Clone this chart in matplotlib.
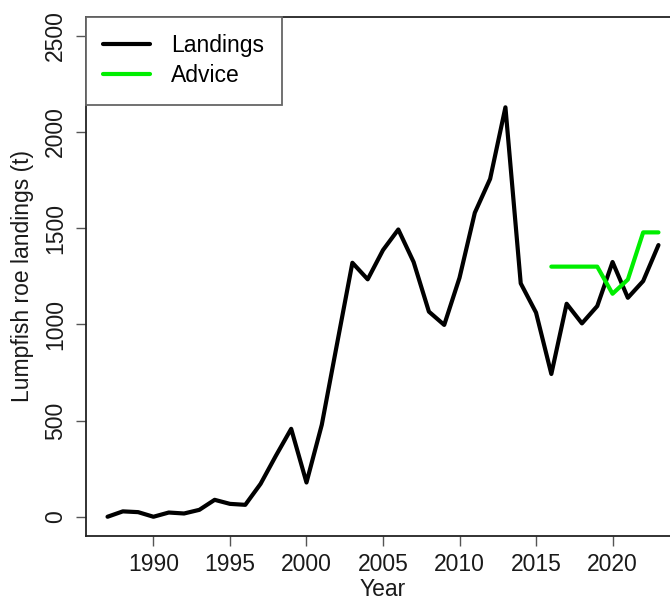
import matplotlib
matplotlib.use("Agg")
import matplotlib.pyplot as plt

plt.rcParams['font.family'] = ['Liberation Sans', 'DejaVu Sans']

years = list(range(1987, 2024))
landings = [0, 28, 24, 0, 22, 17, 36, 88, 67, 62, 171, 317, 457, 178, 478,
            900, 1320, 1234, 1386, 1493, 1324, 1066, 997, 1242, 1580, 1756,
            2128, 1213, 1061, 742, 1107, 1005, 1095, 1324, 1138, 1225, 1412]

advice_years = [2016, 2017, 2018, 2019, 2020, 2021, 2022, 2023]
advice = [1300, 1300, 1300, 1300, 1159, 1233, 1478, 1478]

xticks = [1990, 1995, 2000, 2005, 2010, 2015, 2020]
yticks = [0, 500, 1000, 1500, 2000, 2500]

FS = 16.5
W, H = 670, 600
fig = plt.figure(figsize=(W / 100, H / 100), dpi=100)
left, right, top, bottom = 85.5, 680.5, 16.5, 536.0
ax = fig.add_axes([left / W, 1 - bottom / H, (right - left) / W, (bottom - top) / H])

line_kw = dict(lw=3.0, solid_joinstyle='round', solid_capstyle='round')
ax.plot(years, landings, color='black', label='Landings', **line_kw)
ax.plot(advice_years, advice, color='#00ee00', label='Advice', **line_kw)

ax.set_xlim(1985.56, 2024.44)
ax.set_ylim(-100, 2600)
ax.set_xticks(xticks)
ax.set_yticks(yticks)
ax.set_xticklabels([str(t) for t in xticks], fontsize=FS, color='#1a1a1a')
ax.set_yticklabels([str(t) for t in yticks], fontsize=FS, color='#1a1a1a',
                   rotation=90, va='center')
ax.tick_params(axis='both', length=7, width=1.0, color='#555555')
ax.tick_params(axis='x', pad=5)
ax.tick_params(axis='y', pad=6.5)
for s in ax.spines.values():
    s.set_linewidth(1.3)
    s.set_color('#222222')

ax.set_xlabel('Year', fontsize=FS, color='#1a1a1a', va='center')
ax.xaxis.set_label_coords(0.5, (bottom - 590) / (bottom - top))
ax.set_ylabel('Lumpfish roe landings (t)', fontsize=FS, color='#1a1a1a', va='center')
ax.yaxis.set_label_coords((22 - left) / (right - left), 0.5)

leg = ax.legend(loc='upper left', bbox_to_anchor=(0, 1), borderaxespad=0,
                fontsize=FS, frameon=True, fancybox=False, handlelength=2.04,
                handletextpad=0.9, borderpad=0.78, labelspacing=0.31)
frame = leg.get_frame()
frame.set_edgecolor('#666666')
frame.set_linewidth(1.3)
frame.set_facecolor('white')
frame.set_alpha(1)

fig.savefig('out.png', dpi=100)
